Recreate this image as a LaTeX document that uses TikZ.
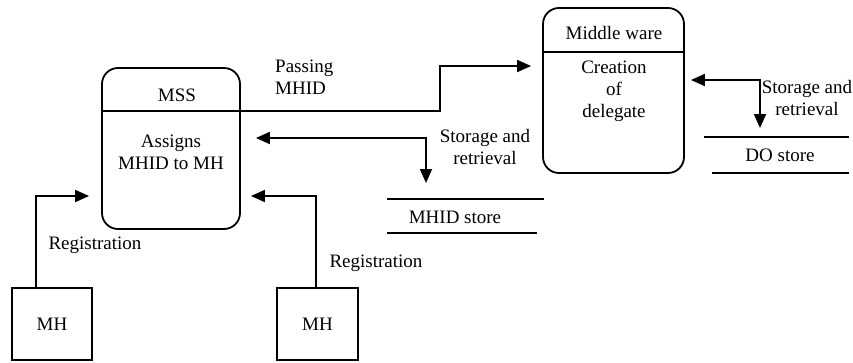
\documentclass[tikz,border=0pt]{standalone}
\usepackage{fontspec}
\setmainfont{Liberation Serif}
\usetikzlibrary{arrows.meta}

\begin{document}
\begin{tikzpicture}[x=1pt, y=-1pt, line width=1.8pt,
    every node/.style={font=\fontsize{19}{22}\selectfont, align=center},
    procbox/.style={draw, rounded corners=16pt, inner sep=0pt},
    hostbox/.style={draw, inner sep=0pt, minimum width=80pt, minimum height=72pt},
    flow/.style={-{Triangle[length=14pt,width=12pt]}},
    bothflow/.style={{Triangle[length=14pt,width=12pt]}-{Triangle[length=14pt,width=12pt]}}]
        \useasboundingbox (0,0) rectangle (853,362);

        % processes
        \node[procbox, minimum width=138pt, minimum height=161pt] (mss) at (171,148.5) {};
        \node (msstitle) at (177,95) {MSS};
        \node (mssbody) at (171,152) {Assigns\\MHID to MH};
        \draw (mss.west |- 0,111) -- (mss.east |- 0,111);

        \node[procbox, minimum width=141pt, minimum height=165pt] (mw) at (613.5,90.5) {};
        \node (mwtitle) at (614,33) {Middle ware};
        \node (mwbody) at (614,91) {Creation\\of\\delegate};
        \draw (mw.west |- 0,52) -- (mw.east |- 0,52);

        % mobile hosts
        \node[hostbox] (mh1) at (52,324) {MH};
        \node[hostbox, minimum width=81pt] (mh2) at (317.5,324) {MH};

        % data stores
        \node (mhidstore) at (455,217) {MHID store};
        \draw (387,199) -- (544,199);
        \draw (387,233) -- (537,233);
        \coordinate (mhidin) at (426,199);

        \node (dostore) at (780,155) {DO store};
        \draw (704,137) -- (849,137);
        \draw (712,173) -- (849,173);
        \coordinate (doin) at (760,137);

        % flows
        \draw[flow, shorten >=11pt] (mss.east |- 0,111) -- (440,111) |- (mw.west |- 0,66);
        \draw[bothflow, shorten <=16pt, shorten >=15pt] (mhidin) |- (mss.east |- 0,138);
        \draw[bothflow, shorten <=9pt, shorten >=6pt] (doin) |- (mw.east |- 0,80);
        \draw[flow, shorten >=12pt] (mh1.north -| 36,0) |- (mss.west |- 0,196);
        \draw[flow, shorten >=10pt] (mh2.north -| 316,0) |- (mss.east |- 0,196);

        % labels
        \node[anchor=west, align=left] (passlbl) at (271,77) {Passing\\MHID};
        \node (mhidlbl) at (485,147) {Storage and\\retrieval};
        \node (dolbl) at (807,98) {Storage and\\retrieval};
        \node (reglbl1) at (95,245) {Registration};
        \node (reglbl2) at (376,263) {Registration};
\end{tikzpicture}
\end{document}
